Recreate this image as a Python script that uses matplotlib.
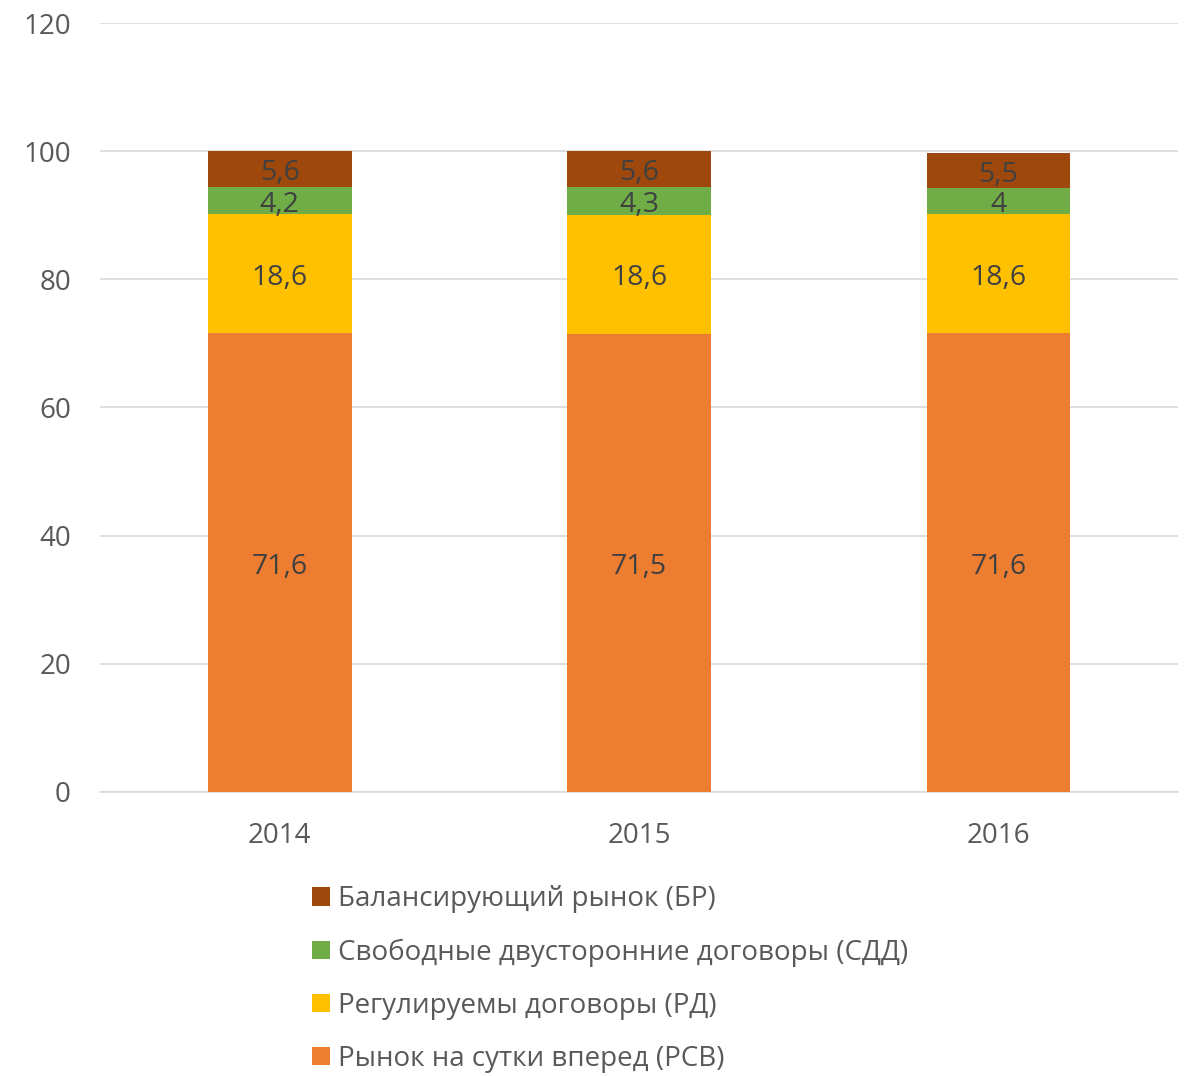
import matplotlib.pyplot as plt
import numpy as np

# Данные
годы = ["2014", "2015", "2016"]
рсв = [71.6, 71.5, 71.6]
рд = [18.6, 18.6, 18.6]
сдд = [4.2, 4.3, 4.0]
бр = [5.6, 5.6, 5.5]

серии = [
    ("Рынок на сутки вперед (РСВ)", рсв, "#ED7D31"),
    ("Регулируемы договоры (РД)", рд, "#FFC000"),
    ("Свободные двусторонние договоры (СДД)", сдд, "#70AD47"),
    ("Балансирующий рынок (БР)", бр, "#9E480E"),
]

plt.rcParams["font.family"] = ["Open Sans", "DejaVu Sans"]

fig = plt.figure(figsize=(11.84, 10.76), dpi=100)
ax = fig.add_axes([0.0845, 0.264, 0.9105, 0.7146])

x = np.arange(len(годы))
низ = np.zeros(len(годы))
for имя, значения, цвет in серии:
    ax.bar(x, значения, width=0.4, bottom=низ, color=цвет, label=имя, zorder=3)
    for xi, b, v in zip(x, низ, значения):
        текст = f"{v:g}".replace(".", ",")
        ax.annotate(текст, (xi, b + v / 2), xytext=(0, -3), textcoords="offset points",
                    ha="center", va="center", fontsize=20.5, color="#404040", zorder=4)
    низ += np.array(значения)

ax.set_xlim(-0.5, 2.5)
ax.set_ylim(0, 120)
ax.set_yticks(np.arange(0, 121, 20))
ax.set_xticks(x, годы)
ax.tick_params(axis="both", length=0, labelsize=20, colors="#595959")
ax.tick_params(axis="y", pad=21)
ax.tick_params(axis="x", pad=22)
ax.grid(axis="y", color="#D9D9D9", linewidth=1.2, zorder=0)
for s in ["top", "right", "left"]:
    ax.spines[s].set_visible(False)
ax.spines["bottom"].set_color("#D9D9D9")
ax.spines["bottom"].set_linewidth(1.2)

handles, labels = ax.get_legend_handles_labels()
fig.legend(handles[::-1], labels[::-1], loc="upper left",
           bbox_to_anchor=(0.2516, 0.19), frameon=False, fontsize=20,
           labelcolor="#595959", handlelength=0.65, handleheight=0.65,
           handletextpad=0.3, labelspacing=0.9, borderpad=0)

fig.savefig("out.png", dpi=100)
